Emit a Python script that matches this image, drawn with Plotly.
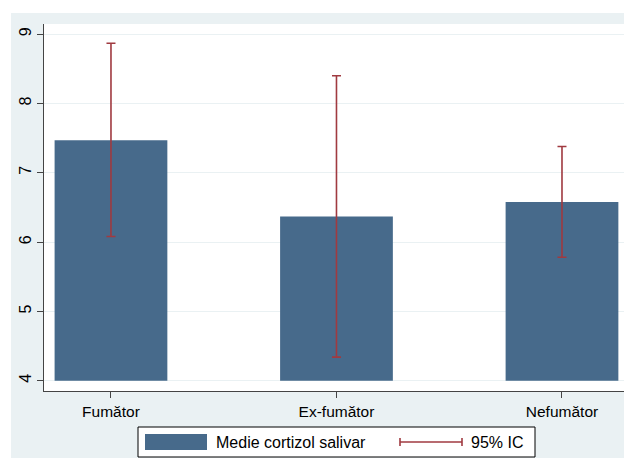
import plotly.graph_objects as go

categories = ["Fumător", "Ex-fumător", "Nefumător"]
means = [7.47, 6.37, 6.58]
ci_low = [6.08, 4.34, 5.78]
ci_high = [8.87, 8.40, 7.38]
y_ticks = [4, 5, 6, 7, 8, 9]
series_name = "Medie cortizol salivar"
ci_name = "95% IC"

BAR = "#476a8b"
ERR = "#a03a40"
BG = "#eaf1f3"
W, H = 624, 458
ML, MR, MT, MB = 44, 0, 24, 67
PW, PH = W - ML - MR, H - MT - MB

def px(x):
    return (x - ML) / PW

def py(y):
    return (H - MB - y) / PH

xpos = list(range(len(categories)))
base = 4

fig = go.Figure()
fig.add_trace(go.Bar(
    x=xpos, y=[m - base for m in means], base=[base] * len(means),
    width=0.5, marker=dict(color=BAR, line=dict(width=0)),
    name=series_name, showlegend=False, hoverinfo="skip"))
fig.add_trace(go.Scatter(
    x=xpos, y=means, mode="markers", marker=dict(size=1, opacity=0),
    error_y=dict(type="data", symmetric=False,
                 array=[h - m for h, m in zip(ci_high, means)],
                 arrayminus=[m - l for m, l in zip(means, ci_low)],
                 color=ERR, thickness=1.6, width=4.5),
    name=ci_name, showlegend=False, hoverinfo="skip"))

shapes = [
    dict(type="rect", xref="paper", yref="paper", x0=px(11), x1=px(W), y0=py(H), y1=py(13),
         fillcolor=BG, line=dict(width=0), layer="below"),
    dict(type="rect", xref="paper", yref="paper", x0=0, x1=1, y0=0, y1=1,
         fillcolor="white", line=dict(width=0), layer="below"),
    # legend box
    dict(type="rect", xref="paper", yref="paper", x0=px(138), x1=px(535), y0=py(457), y1=py(427),
         fillcolor="white", line=dict(color="black", width=1)),
    dict(type="rect", xref="paper", yref="paper", x0=px(145), x1=px(207), y0=py(450), y1=py(434),
         fillcolor=BAR, line=dict(width=0)),
    dict(type="line", xref="paper", yref="paper", x0=px(400), x1=px(462), y0=py(442), y1=py(442),
         line=dict(color=ERR, width=1.6)),
    dict(type="line", xref="paper", yref="paper", x0=px(400), x1=px(400), y0=py(438), y1=py(446),
         line=dict(color=ERR, width=1.6)),
    dict(type="line", xref="paper", yref="paper", x0=px(462), x1=px(462), y0=py(438), y1=py(446),
         line=dict(color=ERR, width=1.6)),
]
annotations = [
    dict(xref="paper", yref="paper", x=px(214), y=py(442), text=series_name, showarrow=False,
         xanchor="left", yanchor="middle", font=dict(size=16, color="black")),
    dict(xref="paper", yref="paper", x=px(469), y=py(442), text=ci_name, showarrow=False,
         xanchor="left", yanchor="middle", font=dict(size=16, color="black")),
]

fig.update_layout(
    width=W, height=H, margin=dict(l=ML, r=MR, t=MT, b=MB, pad=0),
    paper_bgcolor="white", plot_bgcolor="white",
    font=dict(family="Liberation Sans, Arial, sans-serif", size=15, color="black"),
    bargap=0.5, showlegend=False, shapes=shapes, annotations=annotations,
    xaxis=dict(range=[-0.297, 2.275], tickmode="array", tickvals=xpos, ticktext=categories,
               showgrid=False, zeroline=False, showline=True, linecolor="#444", linewidth=1.2,
               ticks="outside", ticklen=6, tickcolor="#444", tickwidth=1.2,
               tickfont=dict(size=15.5), fixedrange=True),
    yaxis=dict(range=[3.851, 9.147], tickmode="array", tickvals=y_ticks,
               ticktext=[str(t) for t in y_ticks], tickangle=-90,
               showgrid=True, gridcolor=BG, gridwidth=1.2, zeroline=False,
               showline=True, linecolor="#444", linewidth=1.2,
               ticks="outside", ticklen=6, tickcolor="#444", tickwidth=1.2,
               tickfont=dict(size=16), fixedrange=True),
)

fig.write_html("out.html", config={"displayModeBar": False},
               post_script="document.body.style.margin='0';document.body.style.overflow='hidden';")
